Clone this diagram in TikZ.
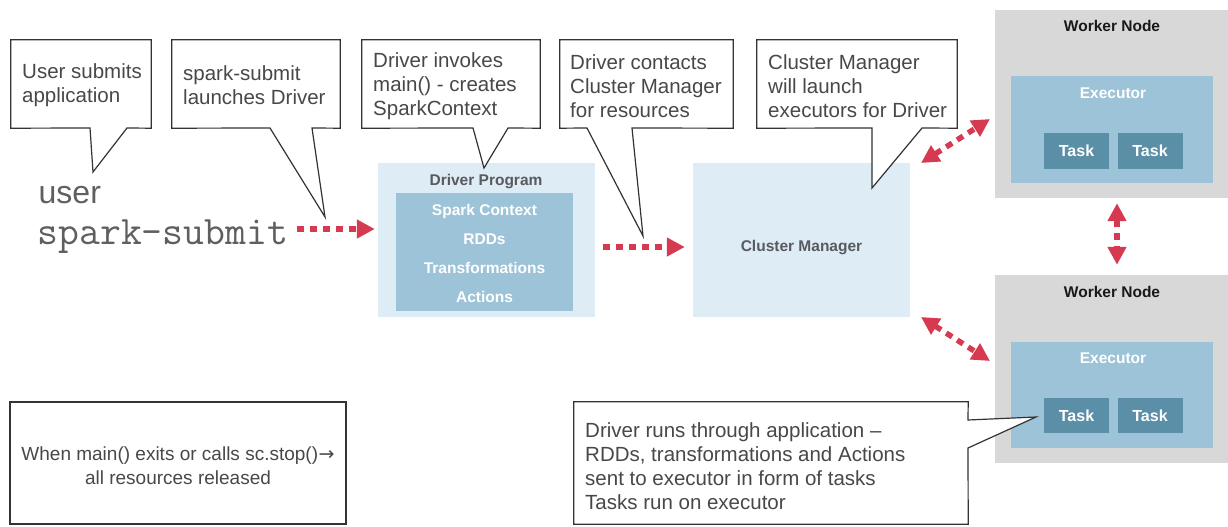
\documentclass[tikz,border=0pt]{standalone}
\usepackage{fontspec}
\setmainfont{Liberation Sans}
\newfontfamily\symfont{DejaVu Sans}
\usetikzlibrary{arrows.meta,calc}

\definecolor{sparkred}{RGB}{214,58,80}
\definecolor{paleblue}{RGB}{222,236,245}
\definecolor{midblue}{RGB}{157,195,216}
\definecolor{taskblue}{RGB}{91,143,168}
\definecolor{workergray}{RGB}{216,216,216}
\definecolor{inkgray}{RGB}{72,72,72}
\definecolor{titlegray}{RGB}{88,90,95}
\definecolor{monogray}{RGB}{95,95,95}

\tikzset{
  note/.style={font=\fontsize{20.5}{24}\selectfont, text=inkgray, align=left, inner sep=0, anchor=west},
  noteline/.style={draw=black!80, line width=1.2pt, fill=white, line join=miter},
  flow/.style={draw=sparkred, line width=5.5pt, dash pattern=on 7pt off 6pt,
    -{Triangle[length=18pt,width=18pt]}},
  flowboth/.style={flow, {Triangle[length=18pt,width=18pt]}-{Triangle[length=18pt,width=18pt]}},
  region/.style={fill=paleblue, inner sep=0},
  worker/.style={fill=workergray, inner sep=0},
  execbox/.style={fill=midblue, inner sep=0},
  taskbox/.style={fill=taskblue, inner sep=0, minimum height=36, minimum width=65,
    text=white, font=\fontsize{16}{18}\bfseries\selectfont},
  title/.style={font=\fontsize{15.5}{18}\bfseries\selectfont, inner sep=0, anchor=base},
  cmdword/.style={text=monogray, inner sep=0, anchor=base west}
}

\begin{document}
\begin{tikzpicture}[x=1pt, y=-1pt]
\useasboundingbox (0,0) rectangle (1228,527);

% ---------- command line ----------
\node[cmdword, font=\fontsize{32}{36}\selectfont] (usr) at (38.5,203) {user};
\node[cmdword, font=\fontsize{40.5}{44}\ttfamily\selectfont] (ss) at (37.5,244.5) {spark-submit};

% ---------- driver program ----------
\node[region, minimum width=217, minimum height=154] (drv) at (486.5,240) {};
\node[title, text=titlegray] (drvt) at (486,185.5) {Driver Program};
\node[execbox, minimum width=177, minimum height=118] (ctx) at (484.5,252) {};
\node[title, text=white] (ctx1) at (484.5,215.5) {Spark Context};
\node[title, text=white] (ctx2) at (484.5,244.5) {RDDs};
\node[title, text=white] (ctx3) at (484.5,273.5) {Transformations};
\node[title, text=white] (ctx4) at (484.5,302.5) {Actions};

% ---------- cluster manager ----------
\node[region, minimum width=217, minimum height=154] (cm) at (801.5,240) {};
\node[title, text=titlegray] (cmt) at (801.5,251.5) {Cluster Manager};

% ---------- worker nodes ----------
\node[worker, minimum width=233, minimum height=188] (w1) at (1111.5,104) {};
\node[title, text=black!90] (w1t) at (1112,31.5) {Worker Node};
\node[execbox, minimum width=202, minimum height=107] (e1) at (1112,129.5) {};
\node[title, text=white] (e1t) at (1113,98.5) {Executor};
\node[taskbox] (t11) at (1076.5,151) {Task};
\node[taskbox] (t12) at (1150,151) {Task};

\node[worker, minimum width=233, minimum height=188] (w2) at (1111.5,369) {};
\node[title, text=black!90] (w2t) at (1112,297.5) {Worker Node};
\node[execbox, minimum width=202, minimum height=106] (e2) at (1112,395) {};
\node[title, text=white] (e2t) at (1113,363.5) {Executor};
\node[taskbox, minimum height=35] (t21) at (1076.5,415.5) {Task};
\node[taskbox, minimum height=35] (t22) at (1150,415.5) {Task};

% ---------- callouts ----------
\node[inner sep=0, minimum width=140, minimum height=88] (c1) at (81,84) {};
\draw[noteline] (c1.north west) -- (c1.north east) -- (c1.south east)
  -- (127,128) -- (93,172) -- (90,128) -- (c1.south west) -- cycle;
\node[note] (c1t) at (22,85) {User submits\\application};

\node[inner sep=0, minimum width=168, minimum height=88] (c2) at (256,84) {};
\draw[noteline] (c2.north west) -- (c2.north east) -- (c2.south east)
  -- (312,128) -- (325,217) -- (270,128) -- (c2.south west) -- cycle;
\node[note] (c2t) at (183,85) {spark-submit\\launches Driver};

\node[inner sep=0, minimum width=178, minimum height=88] (c3) at (451,84) {};
\draw[noteline] (c3.north west) -- (c3.north east) -- (c3.south east)
  -- (508,128) -- (484,168) -- (473,128) -- (c3.south west) -- cycle;
\node[note] (c3t) at (373,86) {Driver invokes\\main() - creates\\SparkContext};

\node[inner sep=0, minimum width=173, minimum height=88] (c4) at (646.5,84) {};
\draw[noteline] (c4.north west) -- (c4.north east) -- (c4.south east)
  -- (632,128) -- (643,236) -- (587,128) -- (c4.south west) -- cycle;
\node[note] (c4t) at (570,86) {Driver contacts\\Cluster Manager\\for resources};

\node[inner sep=0, minimum width=200, minimum height=88] (c5) at (857,84) {};
\draw[noteline] (c5.north west) -- (c5.north east) -- (c5.south east)
  -- (922,128) -- (872,188) -- (872,128) -- (c5.south west) -- cycle;
\node[note] (c5t) at (768,86) {Cluster Manager\\will launch\\executors for Driver};

\node[inner sep=0, minimum width=394, minimum height=122] (c6) at (771,463) {};
\draw[noteline] (c6.north west) -- (c6.north east) -- (968,420) -- (1036,417)
  -- (968,448) -- (c6.south east) -- (c6.south west) -- cycle;
\node[note] (c6t) at (585,466) {Driver runs through application –\\RDDs, transformations and Actions\\sent to executor in form of tasks\\Tasks run on executor};

\node[noteline, inner sep=0, minimum width=336, minimum height=122] (endbox) at (178,463) {};
\node[note, anchor=center, align=center, font=\fontsize{19}{24}\selectfont] (endt) at (178,466)
  {When main() exits or calls sc.stop()\kern0.5pt{\symfont\fontsize{19}{24}\selectfont →}\\all resources released};

% ---------- flows ----------
\coordinate (a1s) at (297,229);
\draw[flow, shorten >=3pt] (a1s) -- (a1s -| drv.west);
\coordinate (a2s) at (603,247);
\draw[flow, shorten >=8pt] (a2s) -- (a2s -| cm.west);
\coordinate (a3a) at (921,163);
\coordinate (a3b) at (990,119);
\draw[flowboth] (a3a) -- (a3b);
\coordinate (a4a) at (921,317);
\coordinate (a4b) at (990,361);
\draw[flowboth] (a4a) -- (a4b);
\draw[flowboth] ($(w1.south)+(5.5,5)$) -- ($(w2.north)+(5.5,-10)$);
\end{tikzpicture}
\end{document}
